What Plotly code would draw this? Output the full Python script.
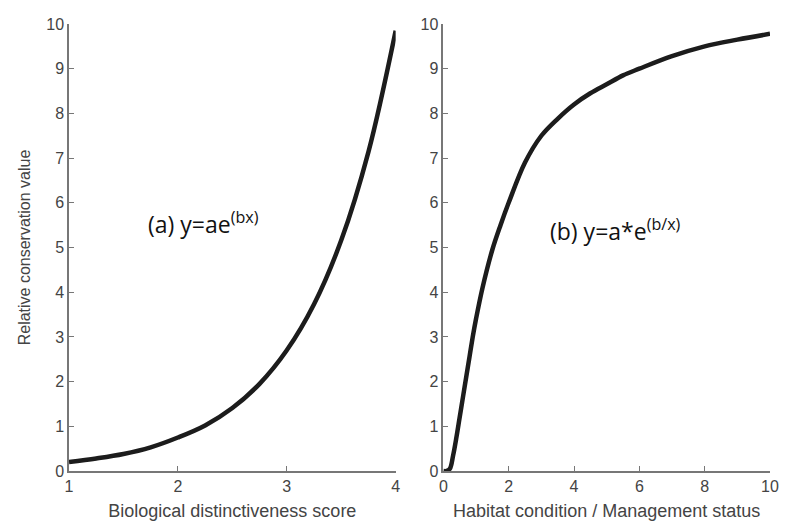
import plotly.graph_objects as go
from plotly.subplots import make_subplots

# (a) Biological distinctiveness score vs relative conservation value
bio_score = [1.0, 1.25, 1.5, 1.75, 2.0, 2.25, 2.5, 2.75, 3.0, 3.25, 3.5, 3.75, 4.0]
bio_value = [0.20, 0.28, 0.38, 0.53, 0.75, 1.02, 1.41, 1.95, 2.70, 3.73, 5.16, 7.14, 9.85]

# (b) Habitat condition / Management status vs relative conservation value
hab_score = [0, 0.1, 0.2, 0.3, 0.4, 0.5, 0.6, 0.7, 0.8, 0.9, 1.0, 1.2, 1.5, 1.75,
             2.0, 2.5, 3.0, 3.5, 4.0, 4.5, 5.0, 5.5, 6.0, 7.0, 8.0, 9.0, 10.0]
hab_value = [0, 0, 0.05, 0.35, 0.75, 1.2, 1.65, 2.1, 2.55, 3.0, 3.4, 4.1, 4.95, 5.5,
             6.0, 6.9, 7.5, 7.88, 8.2, 8.45, 8.65, 8.85, 9.0, 9.28, 9.5, 9.65, 9.78]

left_xticks = [1, 2, 3, 4]
right_xticks = [0, 2, 4, 6, 8, 10]
yticks = list(range(0, 11))

fig = make_subplots(rows=1, cols=2, horizontal_spacing=0.068)

line_style = dict(color="#1c1c1c", width=4.5)
fig.add_trace(go.Scatter(x=bio_score, y=bio_value, mode="lines", line=dict(line_style, shape="spline")), row=1, col=1)
fig.add_trace(go.Scatter(x=hab_score, y=hab_value, mode="lines", line=dict(line_style, shape="spline")), row=1, col=2)

axis_common = dict(showgrid=False, zeroline=False, showline=True, linecolor="#777777", linewidth=1.5,
                   ticks="inside", ticklen=5, tickcolor="#777777", ticklabeloverflow="allow",
                   tickfont=dict(family="Liberation Sans, Arial", size=16, color="#444444"))

ytitle_font = dict(family="Liberation Sans, Arial", size=16, color="#444444")
xtitle_font = dict(family="Liberation Sans, Arial", size=18, color="#444444")
fig.update_xaxes(axis_common, row=1, col=1, range=[1, 4], tickvals=left_xticks,
                 title=dict(text="Biological distinctiveness score", standoff=10, font=xtitle_font))
fig.update_xaxes(axis_common, row=1, col=2, range=[0, 10], tickvals=right_xticks,
                 title=dict(text="Habitat condition / Management status", standoff=10, font=xtitle_font))
fig.update_yaxes(axis_common, row=1, col=1, range=[0, 10], tickvals=yticks,
                 title=dict(text="Relative conservation value", standoff=12, font=ytitle_font))
fig.update_yaxes(axis_common, row=1, col=2, range=[0, 10], tickvals=yticks)

# page body adds an 8px offset; figure is sized to fit the remaining window
fig.update_layout(
    width=779, height=518,
    margin=dict(l=61, r=10, t=8, b=54),
    plot_bgcolor="white", paper_bgcolor="white",
    showlegend=False,
    xaxis=dict(domain=[0, 0.466]),
    xaxis2=dict(domain=[0.534, 1]),
)

fig.add_annotation(x=1.71, y=5.55, xref="x", yref="y", xanchor="left", showarrow=False,
                   text="(a) y=ae<sup>(bx)</sup>",
                   font=dict(family="Open Sans, Liberation Sans", size=23, color="#111111"))
fig.add_annotation(x=3.2, y=5.4, xref="x2", yref="y2", xanchor="left", showarrow=False,
                   text="(b) y=a*e<sup>(b/x)</sup>",
                   font=dict(family="Open Sans, Liberation Sans", size=23, color="#111111"))

fig.write_html("out.html")
